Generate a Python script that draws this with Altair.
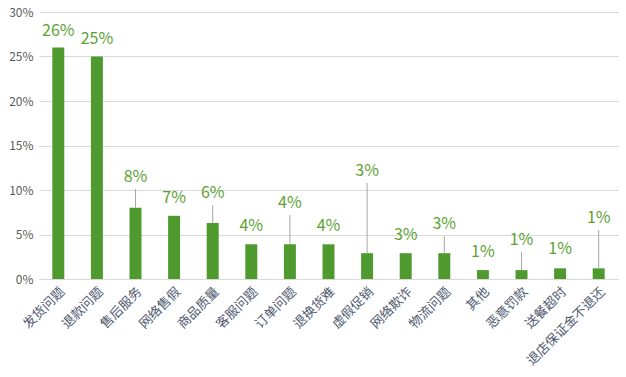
import altair as alt
import pandas as pd

categories = ["发货问题", "退款问题", "售后服务", "网络售假", "商品质量", "客服问题", "订单问题",
              "退换货难", "虚假促销", "网络欺诈", "物流问题", "其他", "恶意罚款", "送餐超时", "退店保证金不退还"]
values = [26.0, 25.0, 8.0, 7.1, 6.3, 3.9, 3.9, 3.9, 2.9, 2.9, 2.9, 1.0, 1.0, 1.2, 1.2]
labels = ["26%", "25%", "8%", "7%", "6%", "4%", "4%", "4%", "3%", "3%", "3%", "1%", "1%", "1%", "1%"]
label_pos = [27.3, 26.4, 10.9, 8.5, 9.1, 5.4, 8.0, 5.4, 11.6, 4.4, 5.6, 2.5, 3.8, 2.8, 6.3]
leader = [False, False, True, False, True, False, True, False, True, False, True, False, True, False, True]

df = pd.DataFrame({"cat": categories, "val": values, "lab": labels,
                   "lpos": label_pos, "leader": leader})
df["ltop"] = df["lpos"] - 0.8

FONT = "Noto Sans CJK SC"
BAR = "#4F9A2F"
TXT = "#5BA232"

x = alt.X("cat:N", sort=categories, title=None,
          scale=alt.Scale(paddingInner=0.69, paddingOuter=0.345),
          axis=alt.Axis(labelAngle=-45, labelFont=FONT, labelFontSize=13, labelColor="#505A70",
                        ticks=False, domainColor="#D9D9D9", labelPadding=6, labelLimit=200))
y = alt.Y("val:Q", title=None,
          scale=alt.Scale(domain=[0, 30], nice=False),
          axis=alt.Axis(values=[0, 5, 10, 15, 20, 25, 30], labelExpr="datum.value + '%'",
                        labelFont=FONT, labelFontSize=12, labelColor="#595959", ticks=False,
                        domain=False, gridColor="#D9D9D9", labelPadding=6))

bars = alt.Chart(df).mark_bar(color=BAR).encode(x=x, y=y)

rules = alt.Chart(df).transform_filter("datum.leader").mark_rule(color="#A6A6A6", strokeWidth=1).encode(
    x=alt.X("cat:N", sort=categories),
    y=alt.Y("val:Q"),
    y2="ltop:Q")

texts = alt.Chart(df).mark_text(color=TXT, font=FONT, fontSize=16, baseline="alphabetic").encode(
    x=alt.X("cat:N", sort=categories),
    y=alt.Y("lpos:Q"),
    text="lab:N")

chart = (bars + rules + texts).properties(
    width=579, height=267,
    autosize=alt.AutoSizeParams(type="none"),
    padding={"left": 39, "top": 12, "right": 8, "bottom": 98},
    background="white",
).configure_view(stroke=None)

chart.save("out.html", embed_options={"renderer": "svg", "actions": False})
